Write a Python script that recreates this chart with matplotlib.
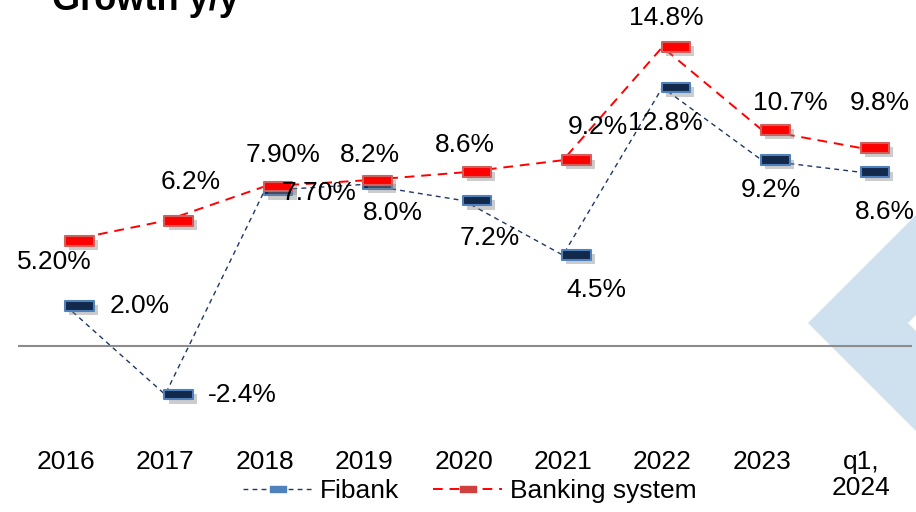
import matplotlib.pyplot as plt
from matplotlib.lines import Line2D
from matplotlib.path import Path
from matplotlib.patches import Polygon
import matplotlib.patheffects as pe

categories = ["2016", "2017", "2018", "2019", "2020", "2021", "2022", "2023", "q1,\n2024"]
fibank = [2.0, -2.4, 7.7, 8.0, 7.2, 4.5, 12.8, 9.2, 8.6]
banking = [5.2, 6.2, 7.9, 8.2, 8.6, 9.2, 14.8, 10.7, 9.8]
fibank_labels = ["2.0%", "-2.4%", "7.70%", "8.0%", "7.2%", "4.5%", "12.8%", "9.2%", "8.6%"]
banking_labels = ["5.20%", "6.2%", "7.90%", "8.2%", "8.6%", "9.2%", "14.8%", "10.7%", "9.8%"]

# label offsets in pixels (dx, dy, ha)
fib_off = [(44, 0, "left"), (43, 0, "left"), (17, -2, "left"), (29, -29, "center"),
           (26, -37, "center"), (33, -35, "center"), (3, -36, "center"),
           (9, -30, "center"), (24, -40, "center")]
bank_off = [(-11, -21, "center"), (26, 39, "center"), (18, 31, "center"), (6, 25, "center"),
            (1, 27, "center"), (35, 33, "center"), (4, 29, "center"),
            (29, 27, "center"), (19, 45, "center")]

W, H = 916, 512
plt.rcParams['font.family'] = ['Liberation Sans', 'DejaVu Sans']

fig = plt.figure(figsize=(W / 100, H / 100), dpi=100)


def px(x, y):
    return (x / W, 1 - y / H)


# light blue background diamond on the right
diamond = Polygon([px(808, 323), px(916 + 300, 323 - 408), px(916 + 300, 323 + 408)],
                  closed=True, transform=fig.transFigure, facecolor="#CFE0EE",
                  edgecolor="none", zorder=-2)
fig.patches.append(diamond)
notch = Polygon([px(908, 323), px(916, 315), px(916, 331)], closed=True,
                transform=fig.transFigure, facecolor="white", edgecolor="none", zorder=-1)
fig.patches.append(notch)

ax = fig.add_axes([18 / W, 72 / H, (912 - 18) / W, 440 / H])
ax.patch.set_alpha(0)
x = list(range(len(categories)))

rect = Path([(-0.05, -0.35), (2, -0.35), (2, 0.35), (-0.05, 0.35), (-0.05, -0.35)],
            [Path.MOVETO, Path.LINETO, Path.LINETO, Path.LINETO, Path.CLOSEPOLY])
shadow = [pe.SimplePatchShadow(offset=(3, -3), alpha=0.4, shadow_rgbFace="gray"), pe.Normal()]

ax.axhline(0, color="#8C8C8C", lw=1.5, zorder=1)

ax.plot(x, banking, color="#FF0000", lw=1.4, dashes=(5, 3.5), zorder=2)
ax.plot(x, fibank, color="#1F3864", lw=1.0, dashes=(3.5, 3), zorder=2)
ax.plot(x, fibank, ls="none", marker=rect, ms=40, mfc="#13294B", mec="#4F81BD",
        mew=1.5, zorder=3, path_effects=shadow)
ax.plot(x, banking, ls="none", marker=rect, ms=40, mfc="#FF0000", mec="#D0605C",
        mew=1.5, zorder=3, path_effects=shadow)

for i in x:
    dx, dy, ha = fib_off[i]
    ax.annotate(fibank_labels[i], (i, fibank[i]), xytext=(dx, dy), textcoords="offset pixels",
                ha=ha, va="center", fontsize=19, zorder=5)
    dx, dy, ha = bank_off[i]
    ax.annotate(banking_labels[i], (i, banking[i]), xytext=(dx, dy), textcoords="offset pixels",
                ha=ha, va="center", fontsize=19, zorder=5)

ax.set_xlim(-0.48, 8.51)
ax.set_ylim(-4.65, 17.13)
ax.set_xticks(x)
ax.set_xticklabels(categories, fontsize=19, va="top", linespacing=1.1)
ax.tick_params(axis="x", length=0, pad=7)
ax.set_yticks([])
for s in ax.spines.values():
    s.set_visible(False)

fig.text(52 / W, 1 - 10 / H, "Growth y/y", fontsize=26, fontweight="bold",
         va="baseline", ha="left")

crect = Path([(-1, -0.35), (1, -0.35), (1, 0.35), (-1, 0.35), (-1, -0.35)],
             [Path.MOVETO, Path.LINETO, Path.LINETO, Path.LINETO, Path.CLOSEPOLY])
handles = [
    Line2D([], [], color="#1F3864", lw=1.0, dashes=(3.5, 3), marker=crect, ms=11,
           mfc="#4F81BD", mec="#4F81BD"),
    Line2D([], [], color="#FF0000", lw=1.4, dashes=(5, 3.5), marker=crect, ms=11,
           mfc="#D0403C", mec="#D0403C"),
]
fig.legend(handles, ["Fibank", "Banking system"], loc="center",
           bbox_to_anchor=(470 / W, 1 - 491 / H), ncol=2, frameon=False,
           fontsize=19, handlelength=2.6, handletextpad=0.3, columnspacing=1.3,
           borderpad=0, borderaxespad=0)

fig.savefig("out.png", dpi=100)
